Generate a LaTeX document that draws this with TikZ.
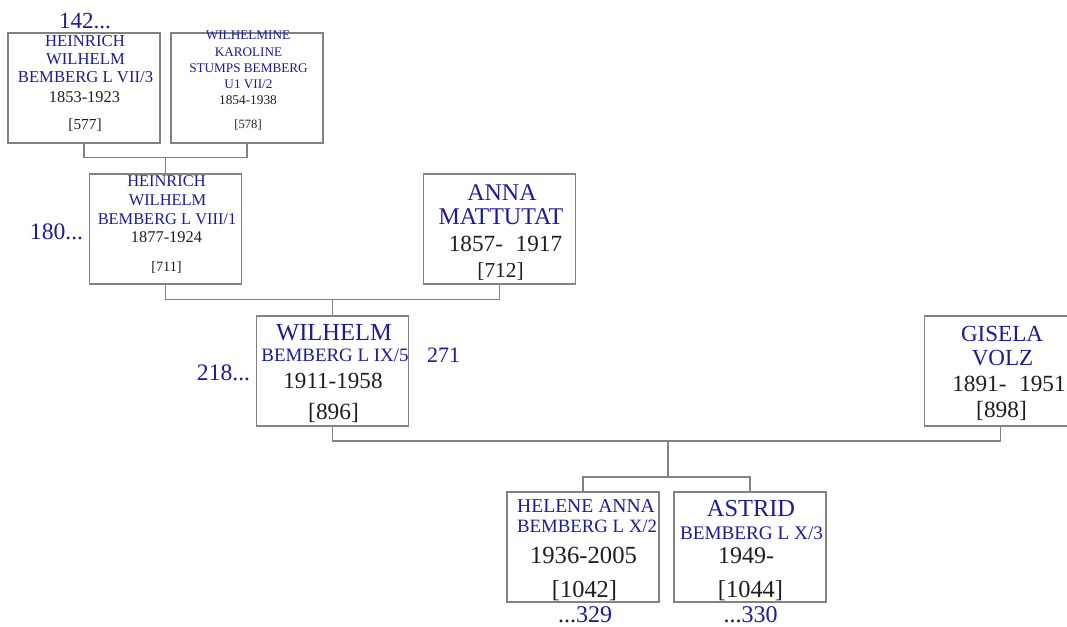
\documentclass[tikz,border=0pt]{standalone}
\usepackage{fontspec}
\usetikzlibrary{calc}
\setmainfont{Liberation Serif}
\definecolor{nmc}{RGB}{28,28,150}
\definecolor{txc}{RGB}{30,30,30}
\definecolor{lnc}{RGB}{130,130,130}
\newcommand\fsz[1]{\fontsize{#1}{#1}\selectfont}
\tikzset{
  box/.style={draw=lnc, line width=1pt, minimum width=114pt, minimum height=82.5pt, inner sep=0pt},
  nm/.style={text=nmc, anchor=base, inner sep=0pt},
  tx/.style={text=txc, anchor=base, inner sep=0pt},
  conn/.style={draw=lnc, line width=1pt},
}
\begin{document}
\begin{tikzpicture}[x=0.75pt,y=-0.75pt]
\clip (0,0) rectangle (1067,626);
\fill[white] (0,0) rectangle (1067,626);

% boxes
\node[box] (p577) at (84,88) {};
\node[box] (p578) at (247,88) {};
\node[box] (p711) at (165.5,229) {};
\node[box] (p712) at (499.5,229) {};
\node[box] (p896) at (332.5,371) {};
\node[box] (p898) at (1000.5,371) {};
\node[box] (p1042) at (583,547) {};
\node[box] (p1044) at (750,547) {};

% connectors
\coordinate (j1) at ($(p711.north)+(0,-16)$);
\coordinate (j2) at ($(p896.north)+(0,-16)$);
\coordinate (j3) at (668,441);
\coordinate (j4) at (668,477);
\draw[conn] (p577.south) |- (j1) -| (p578.south);
\draw[conn] (j1) -- (p711.north);
\draw[conn] (p711.south) |- (j2) -| (p712.south);
\draw[conn] (j2) -- (p896.north);
\draw[conn] (p896.south) |- (j3) -| (p898.south);
\draw[conn] (j3) -- (j4);
\draw[conn] (p1042.north) |- (j4) -| (p1044.north);

% 577
\node[nm,font=\fsz{17.3pt}] (r142) at (85,28) {142...};
\node[nm,font=\fsz{12.5pt}] (a1) at (85,46) {HEINRICH};
\node[nm,font=\fsz{12.5pt}] (a2) at (85.5,64) {WILHELM};
\node[nm,font=\fsz{12.5pt}] (a3) at (85.5,82) {BEMBERG L VII/3};
\node[tx,font=\fsz{12.3pt}] (a4) at (84.5,102) {1853-1923};
\node[tx,font=\fsz{11.5pt}] (a5) at (85,129) {[577]};

% 578
\node[nm,font=\fsz{9.9pt}] (b1) at (248,39) {WILHELMINE};
\node[nm,font=\fsz{9.9pt}] (b2) at (248.5,56) {KAROLINE};
\node[nm,font=\fsz{9.9pt}] (b3) at (248.5,72) {STUMPS BEMBERG};
\node[nm,font=\fsz{9.9pt}] (b4) at (248.5,88) {U1 VII/2};
\node[tx,font=\fsz{10pt}] (b5) at (248,104) {1854-1938};
\node[tx,font=\fsz{9.5pt}] (b6) at (248,128) {[578]};

% 711
\node[nm,font=\fsz{17.7pt}] (r180) at (56.5,239) {180...};
\node[nm,font=\fsz{12.3pt}] (c1) at (166.5,186) {HEINRICH};
\node[nm,font=\fsz{12.3pt}] (c2) at (167.5,205) {WILHELM};
\node[nm,font=\fsz{12.3pt}] (c3) at (167,224) {BEMBERG L VIII/1};
\node[tx,font=\fsz{12.3pt}] (c4) at (166.5,242) {1877-1924};
\node[tx,font=\fsz{10.7pt}] (c5) at (166.5,271) {[711]};

% 712
\node[nm,font=\fsz{18pt}] (d1) at (502,200) {ANNA};
\node[nm,font=\fsz{18pt}] (d2) at (501,224) {MATTUTAT};
\node[tx,font=\fsz{17.4pt}] (d3) at (505.5,251) {1857-\hspace{0.55em}1917};
\node[tx,font=\fsz{16pt}] (d4) at (500.5,277) {[712]};

% 896
\node[nm,font=\fsz{17.7pt}] (r218) at (223.5,380) {218...};
\node[nm,font=\fsz{16.5pt}] (r271) at (443.5,362) {271};
\node[nm,font=\fsz{18.4pt}] (e1) at (334,340) {WILHELM};
\node[nm,font=\fsz{14.2pt}] (e2) at (335,361) {BEMBERG L IX/5};
\node[tx,font=\fsz{17.3pt}] (e3) at (333,388) {1911-1958};
\node[tx,font=\fsz{17.5pt}] (e4) at (333.5,419) {[896]};

% 898
\node[nm,font=\fsz{17.3pt}] (f1) at (1002,341) {GISELA};
\node[nm,font=\fsz{17.3pt}] (f2) at (1002.5,365) {VOLZ};
\node[tx,font=\fsz{17.4pt}] (f3) at (1009,391) {1891-\hspace{0.55em}1951};
\node[tx,font=\fsz{17.5pt}] (f4) at (1001.5,417) {[898]};

% 1042
\node[nm,font=\fsz{14.7pt}] (g1) at (586,512) {HELENE ANNA};
\node[nm,font=\fsz{14.1pt}] (g2) at (587,532) {BEMBERG L X/2};
\node[tx,font=\fsz{18.5pt}] (g3) at (583.5,563) {1936-2005};
\node[tx,font=\fsz{18.3pt}] (g4) at (584.5,597) {[1042]};
\node[nm,font=\fsz{18pt},text depth=0pt] (r329) at (585,622.5) {\textcolor{txc}{...}329};

% 1044
\node[nm,font=\fsz{18.3pt}] (h1) at (751,516) {ASTRID};
\node[nm,font=\fsz{14.4pt}] (h2) at (751.5,539) {BEMBERG L X/3};
\node[tx,font=\fsz{18pt}] (h3) at (746,563) {1949-};
\node[tx,font=\fsz{18.3pt}] (h4) at (750.5,597) {[1044]};
\node[nm,font=\fsz{18pt},text depth=0pt] (r330) at (750.5,622.5) {\textcolor{txc}{...}330};
\end{tikzpicture}
\end{document}
